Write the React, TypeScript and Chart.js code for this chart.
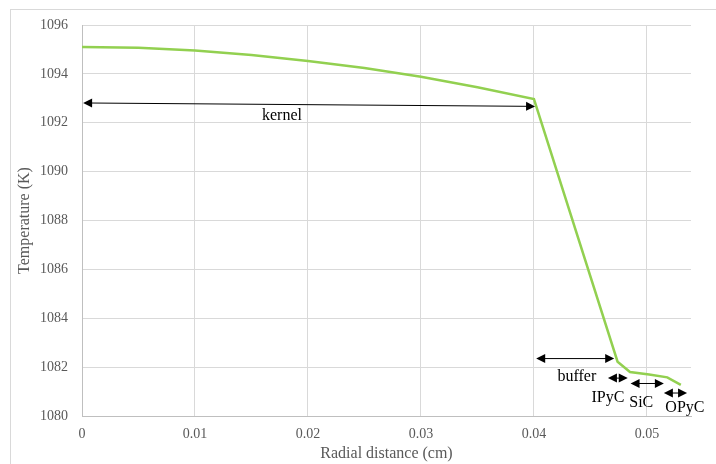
import React, { useEffect, useRef } from "react";
import { Chart, registerables } from "chart.js";

Chart.register(...registerables);

// Data
const radius = [0, 0.005, 0.01, 0.015, 0.02, 0.025, 0.03, 0.035, 0.04, 0.0474, 0.0485, 0.0502, 0.0518, 0.053];
const temperature = [1095.1, 1095.07, 1094.96, 1094.77, 1094.53, 1094.24, 1093.88, 1093.45, 1092.97, 1082.22, 1081.8, 1081.7, 1081.58, 1081.27];
const xTicks = [0, 0.01, 0.02, 0.03, 0.04, 0.05];
const yTicks = [1080, 1082, 1084, 1086, 1088, 1090, 1092, 1094, 1096];

// Layer annotations (data units)
const layerNames = ["kernel", "buffer", "IPyC", "SiC", "OPyC"];
const arrowStartX = [0.0001, 0.0402, 0.04655, 0.04855, 0.0515];
const arrowStartY = [1092.81, 1082.35, 1081.55, 1081.33, 1080.94];
const arrowEndX = [0.0401, 0.0471, 0.0483, 0.0515, 0.05355];
const arrowEndY = [1092.67, 1082.35, 1081.55, 1081.33, 1080.94];
const labelX = [0.0177, 0.0438, 0.04655, 0.0495, 0.05336];
const labelY = [1092.28, 1081.6, 1080.74, 1080.53, 1080.33];

const annotationPlugin = {
  id: "layerAnnotations",
  afterDatasetsDraw(chart: any) {
    const ctx = chart.ctx;
    const xs = chart.scales.x;
    const ys = chart.scales.y;
    ctx.save();
    const head = (tx: number, ty: number, ang: number) => {
      const L = 9, W = 4.5;
      ctx.beginPath();
      ctx.moveTo(tx, ty);
      ctx.lineTo(tx - L * Math.cos(ang) + W * Math.sin(ang), ty - L * Math.sin(ang) - W * Math.cos(ang));
      ctx.lineTo(tx - L * Math.cos(ang) - W * Math.sin(ang), ty - L * Math.sin(ang) + W * Math.cos(ang));
      ctx.closePath();
      ctx.fill();
    };
    for (let i = 0; i < layerNames.length; i++) {
      const x1 = xs.getPixelForValue(arrowStartX[i]);
      const y1 = ys.getPixelForValue(arrowStartY[i]);
      const x2 = xs.getPixelForValue(arrowEndX[i]);
      const y2 = ys.getPixelForValue(arrowEndY[i]);
      const ang = Math.atan2(y2 - y1, x2 - x1);
      ctx.strokeStyle = "#000";
      ctx.fillStyle = "#000";
      ctx.lineWidth = 1;
      ctx.beginPath();
      ctx.moveTo(x1 + 6 * Math.cos(ang), y1 + 6 * Math.sin(ang));
      ctx.lineTo(x2 - 6 * Math.cos(ang), y2 - 6 * Math.sin(ang));
      ctx.stroke();
      head(x2, y2, ang);
      head(x1, y1, ang + Math.PI);
      ctx.font = "16px 'Liberation Serif', 'Times New Roman', serif";
      ctx.textAlign = "center";
      ctx.textBaseline = "middle";
      ctx.fillStyle = "#000";
      ctx.fillText(layerNames[i], xs.getPixelForValue(labelX[i]), ys.getPixelForValue(labelY[i]));
    }
    ctx.restore();
  },
};

export default function App() {
  const canvasRef = useRef<HTMLCanvasElement | null>(null);

  useEffect(() => {
    if (!canvasRef.current) return;
    const tickFont = { family: "'Liberation Serif', 'Times New Roman', serif", size: 14 };
    const titleFont = { family: "'Liberation Serif', 'Times New Roman', serif", size: 16 };
    const chart = new Chart(canvasRef.current, {
      type: "scatter",
      data: {
        datasets: [
          {
            data: radius.map((r, i) => ({ x: r, y: temperature[i] })),
            showLine: true,
            borderColor: "#92d050",
            backgroundColor: "#92d050",
            borderWidth: 2.5,
            pointRadius: 0,
            tension: 0,
          },
        ],
      },
      options: {
        animation: false,
        responsive: true,
        maintainAspectRatio: false,
        layout: { padding: { left: 0, right: 25, top: 25, bottom: 0 } },
        plugins: { legend: { display: false }, tooltip: { enabled: false } },
        scales: {
          x: {
            type: "linear",
            min: 0,
            max: 0.0539,
            afterBuildTicks: (axis: any) => {
              axis.ticks = xTicks.map((v) => ({ value: v }));
            },
            afterFit: (scale: any) => {
              scale.height = 48;
            },
            grid: { color: "#d9d9d9", drawTicks: false },
            border: { color: "#bfbfbf" },
            ticks: {
              color: "#595959",
              font: tickFont,
              padding: 10,
              maxRotation: 0,
              callback: (v: any) => String(v),
            },
            title: {
              display: true,
              text: "Radial distance (cm)",
              color: "#595959",
              font: titleFont,
              padding: { top: 0, bottom: 1 },
            },
          },
          y: {
            type: "linear",
            min: 1080,
            max: 1096,
            afterBuildTicks: (axis: any) => {
              axis.ticks = yTicks.map((v) => ({ value: v }));
            },
            afterFit: (scale: any) => {
              scale.width = 82;
            },
            grid: { color: "#d9d9d9", drawTicks: false },
            border: { color: "#bfbfbf" },
            ticks: {
              color: "#595959",
              font: tickFont,
              padding: 14,
              callback: (v: any) => String(v),
            },
            title: {
              display: true,
              text: "Temperature (K)",
              color: "#595959",
              font: titleFont,
              padding: { top: 15, bottom: 0 },
            },
          },
        },
      },
      plugins: [annotationPlugin],
    } as any);
    return () => chart.destroy();
  }, []);

  return (
    <div
      style={{
        position: "fixed",
        left: 0,
        top: 0,
        width: 716,
        height: 464,
        background: "#fff",
        overflow: "hidden",
      }}
    >
      <div
        style={{
          position: "absolute",
          left: 10,
          top: 9,
          width: 800,
          height: 600,
          border: "1px solid #d9d9d9",
        }}
      />
      <div style={{ position: "absolute", left: 0, top: 0, width: 716, height: 464 }}>
        <canvas ref={canvasRef} />
      </div>
    </div>
  );
}
